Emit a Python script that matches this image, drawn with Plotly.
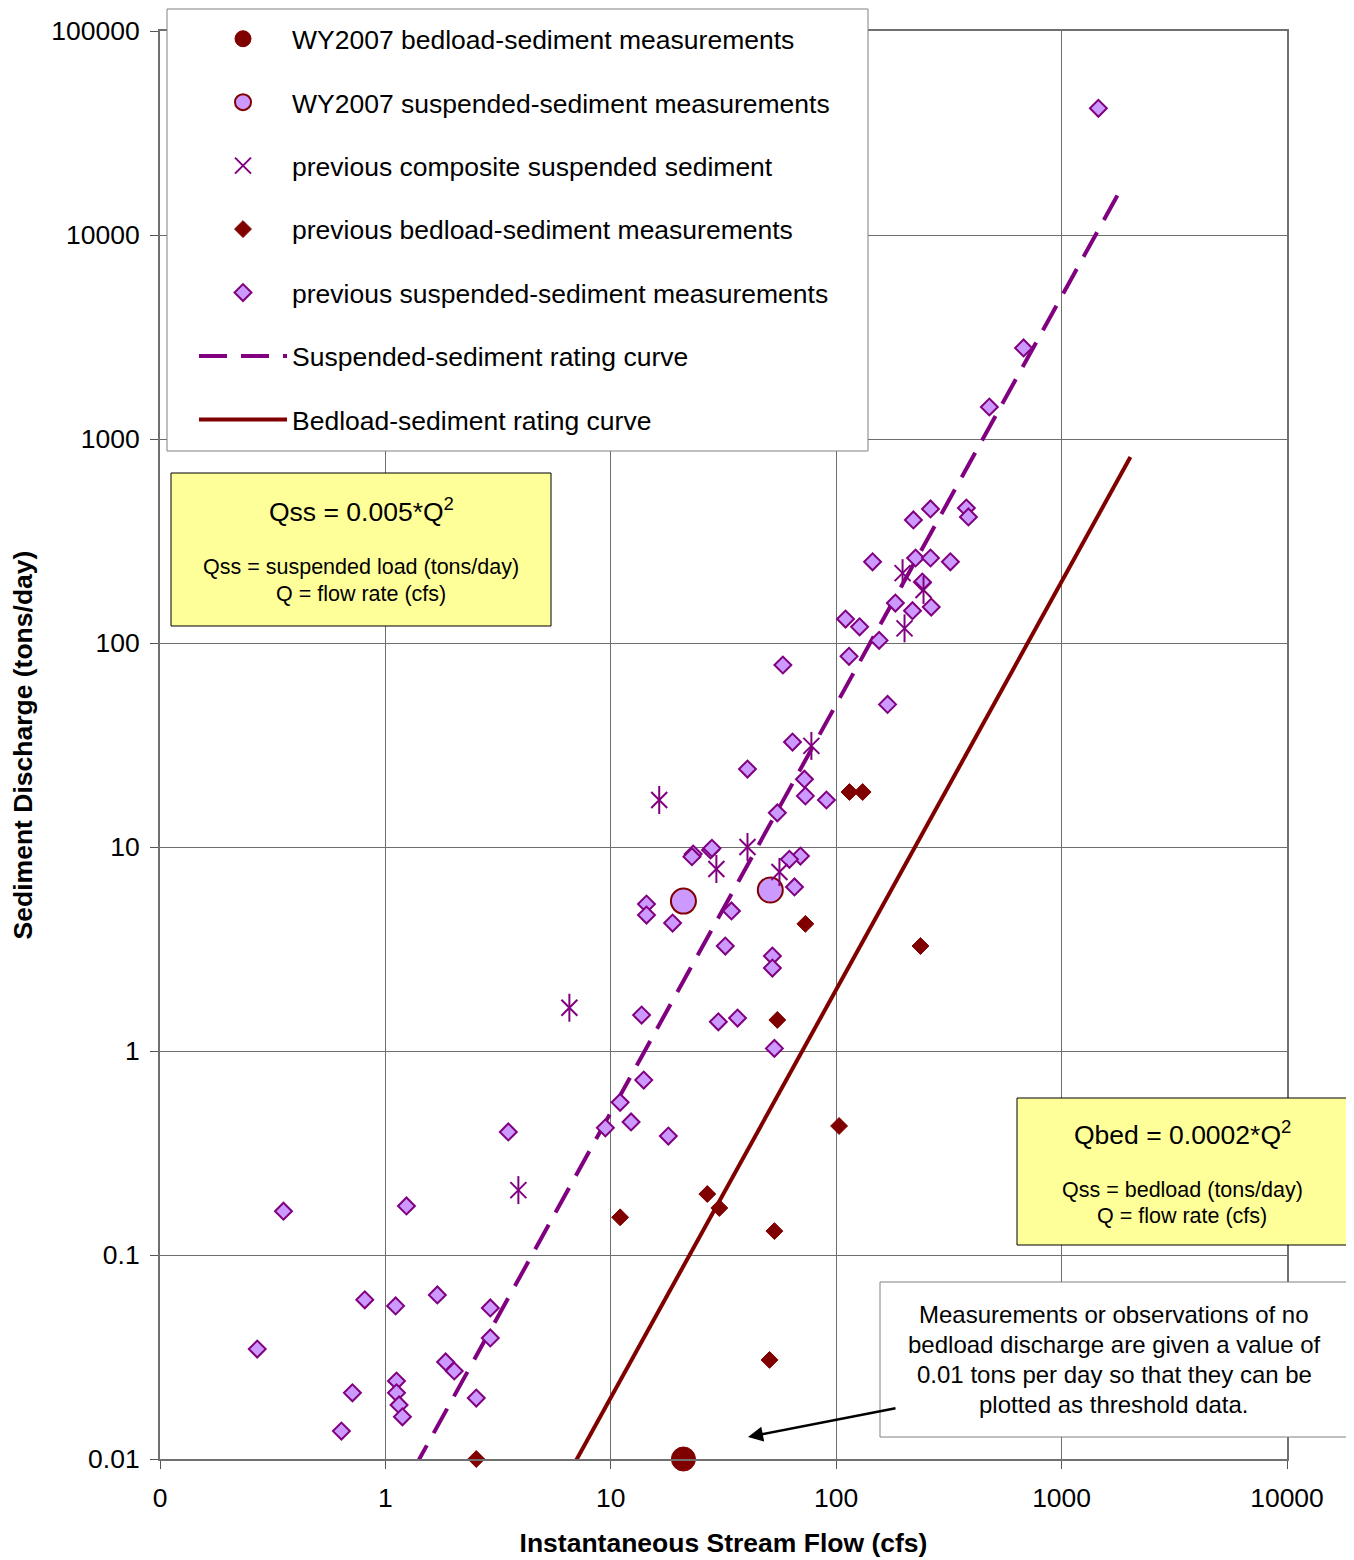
import plotly.graph_objects as go

# ---------------- data ----------------
wy_bed_q = [21.0]
wy_bed_qs = [0.01]

wy_ss_q = [21.0, 51.0]
wy_ss_qs = [5.43, 6.15]

comp_q = [3.89, 6.55, 16.4, 29.4, 40.4, 56.0, 77.6, 197.0, 201.0, 244.0]
comp_qs = [0.208, 1.63, 17.0, 7.8, 10.0, 7.54, 31.3, 220.0, 118.0, 182.0]

prev_bed_q = [114.5, 131.0, 73.0, 236.5, 54.8, 103.0, 26.8, 30.3, 11.0, 53.2, 50.6, 2.53]
prev_bed_qs = [18.6, 18.6, 4.2, 3.27, 1.42, 0.429, 0.199, 0.17, 0.153, 0.131, 0.0306, 0.01]

prev_ss_q = [1456, 678, 478, 378, 386, 262, 220, 321, 225, 262, 145, 241, 183, 218, 264,
             110, 127, 155, 114, 169, 58, 64, 40.4, 72.3, 73, 90.5, 54.8,
             23.2, 22.9, 27.7, 28.1, 69.4, 62, 65.3, 14.4, 14.4, 18.8, 34.3, 32.2,
             52.1, 52.1, 13.7, 30, 36.5, 53.2, 14, 11, 9.46, 12.3, 18, 3.51, 1.24,
             0.353, 2.92, 0.81, 1.70, 1.11, 2.92, 1.85, 2.02, 1.12, 1.12, 1.15, 1.19,
             2.53, 0.714, 0.27, 0.638]
prev_ss_qs = [41800, 2795, 1435, 459, 415, 454, 401, 250, 261, 261, 250, 199, 157, 144, 150,
              131, 120, 103, 86, 50, 78, 32.7, 24.1, 21.5, 17.8, 17, 14.7,
              9.24, 8.96, 9.67, 9.86, 9.03, 8.7, 6.37, 5.25, 4.64, 4.24, 4.86, 3.27,
              2.92, 2.55, 1.5, 1.39, 1.45, 1.03, 0.72, 0.56, 0.42, 0.449, 0.383, 0.401, 0.174,
              0.164, 0.055, 0.0603, 0.0637, 0.0563, 0.0392, 0.0299, 0.027, 0.0241, 0.0211, 0.0184, 0.0161,
              0.0199, 0.0211, 0.0346, 0.0137]

# rating curves from the chart's equations: Qs = coef * Q^2
ss_coef = 0.005
bed_coef = 0.0002
ss_curve_q = [1.33, 1840]
bed_curve_q = [6.6, 2020]
ss_curve_qs = [ss_coef * q ** 2 for q in ss_curve_q]
bed_curve_qs = [bed_coef * q ** 2 for q in bed_curve_q]

x_tickvals = [0.1, 1, 10, 100, 1000, 10000]
x_ticktext = ["0", "1", "10", "100", "1000", "10000"]
y_tickvals = [0.01, 0.1, 1, 10, 100, 1000, 10000, 100000]
y_ticktext = ["0.01", "0.1", "1", "10", "100", "1000", "10000", "100000"]

# ---------------- styling ----------------
PURPLE = "#800080"
LILAC = "#CC99FF"
MAROON = "#800000"
FONT = "Arial, Liberation Sans, sans-serif"

OFF = 8  # page body margin
W, H = 1354 - OFF, 1560 - OFF
# plot area in page pixels
L, R, T, B = 160, 1287, 31, 1459


def px(x):
    return (x - L) / (R - L)


def py(y):
    return (B - y) / (B - T)


fig = go.Figure()

fig.add_trace(go.Scatter(x=ss_curve_q, y=ss_curve_qs, mode="lines",
                         name="Suspended-sediment rating curve",
                         line=dict(color=PURPLE, width=4, dash="28px,14px"),
                         legendgroup="g6", legendrank=6))
fig.add_trace(go.Scatter(x=bed_curve_q, y=bed_curve_qs, mode="lines",
                         name="Bedload-sediment rating curve",
                         line=dict(color=MAROON, width=4),
                         legendgroup="g7", legendrank=7))
fig.add_trace(go.Scatter(x=prev_ss_q, y=prev_ss_qs, mode="markers",
                         name="previous suspended-sediment measurements",
                         marker=dict(symbol="diamond", size=13, color=LILAC,
                                     line=dict(color=PURPLE, width=2)),
                         legendgroup="g5", legendrank=5))
fig.add_trace(go.Scatter(x=prev_bed_q, y=prev_bed_qs, mode="markers",
                         name="previous bedload-sediment measurements",
                         marker=dict(symbol="diamond", size=13, color=MAROON,
                                     line=dict(color=MAROON, width=1)),
                         legendgroup="g4", legendrank=4, cliponaxis=False))
fig.add_trace(go.Scatter(x=wy_ss_q, y=wy_ss_qs, mode="markers",
                         name="WY2007 suspended-sediment measurements",
                         marker=dict(symbol="circle", size=25, color=LILAC,
                                     line=dict(color=MAROON, width=2)),
                         legendgroup="g2", legendrank=2))
fig.add_trace(go.Scatter(x=wy_bed_q, y=wy_bed_qs, mode="markers",
                         name="WY2007 bedload-sediment measurements",
                         marker=dict(symbol="circle", size=24, color=MAROON,
                                     line=dict(color=MAROON, width=1)),
                         legendgroup="g1", legendrank=1, cliponaxis=False))
fig.add_trace(go.Scatter(x=comp_q, y=comp_qs, mode="markers",
                         name="previous composite suspended sediment",
                         marker=dict(symbol="x-thin-open", size=16, color=PURPLE,
                                     line=dict(color=PURPLE, width=2)),
                         legendgroup="g3", legendrank=3))
fig.add_trace(go.Scatter(x=comp_q, y=comp_qs, mode="markers",
                         name="previous composite suspended sediment",
                         marker=dict(symbol="line-ns-open", size=20, color=PURPLE,
                                     line=dict(color=PURPLE, width=2)),
                         legendgroup="g3", showlegend=False))

axis_common = dict(
    type="log", showgrid=True, gridcolor="#6e6e6e", gridwidth=1,
    showline=True, linecolor="#707070", linewidth=2, mirror=True,
    ticks="outside", ticklen=8, tickcolor="#555555", tickwidth=1,
    tickfont=dict(family=FONT, size=26.5, color="black"),
    zeroline=False, automargin=False,
)

fig.update_xaxes(**axis_common, range=[-1, 4], tickvals=x_tickvals, ticktext=x_ticktext,
                 ticklabelstandoff=6,
                 title=dict(text="<b>Instantaneous Stream Flow (cfs)</b>",
                            font=dict(family=FONT, size=26.5, color="black"), standoff=22))
fig.update_yaxes(**axis_common, range=[-2, 5], tickvals=y_tickvals, ticktext=y_ticktext,
                 ticklabelstandoff=5,
                 title=dict(text="<b>Sediment Discharge (tons/day)</b>",
                            font=dict(family=FONT, size=26.5, color="black"), standoff=14))

shapes = [
    # legend frame
    dict(type="rect", xref="paper", yref="paper", x0=px(167), x1=px(868), y0=py(451), y1=py(9),
         fillcolor="white", line=dict(color="#808080", width=1), layer="above"),
    dict(type="rect", xref="paper", yref="paper", x0=px(171), x1=px(551), y0=py(626), y1=py(473),
         fillcolor="#FFFF99", line=dict(color="black", width=1), layer="above"),
    dict(type="rect", xref="paper", yref="paper", x0=px(1017), x1=px(1347), y0=py(1245), y1=py(1098),
         fillcolor="#FFFF99", line=dict(color="black", width=1), layer="above"),
    dict(type="rect", xref="paper", yref="paper", x0=px(880), x1=px(1347), y0=py(1437), y1=py(1282),
         fillcolor="white", line=dict(color="#808080", width=1), layer="above"),
]

annotations = []


def txt(t, x, y, size):
    annotations.append(dict(text=t, x=px(x), y=py(y), xref="paper", yref="paper",
                            showarrow=False, xanchor="center", yanchor="middle",
                            font=dict(family=FONT, size=size, color="black")))


txt("Qss = 0.005*Q<sup>2</sup>", 361, 510, 26.5)
txt("Qss = suspended load (tons/day)", 361, 567, 21.5)
txt("Q = flow rate (cfs)", 361, 594, 21.5)
txt("Qbed = 0.0002*Q<sup>2</sup>", 1182, 1133, 26.5)
txt("Qss = bedload (tons/day)", 1182, 1190, 21.5)
txt("Q = flow rate (cfs)", 1182, 1216, 21.5)
txt("Measurements or observations of no", 1114, 1314, 24)
txt("bedload discharge are given a value of", 1114, 1344, 24)
txt("0.01 tons per day so that they can be", 1114, 1374, 24)
txt("plotted as threshold data.", 1114, 1404, 24)

annotations.append(dict(text="", x=px(748), y=py(1437), xref="paper", yref="paper",
                        showarrow=True, ax=149, ay=-29, axref="pixel", ayref="pixel",
                        arrowhead=2, arrowsize=1.2, arrowwidth=2.5, arrowcolor="black"))

fig.update_layout(
    width=W, height=H,
    margin=dict(l=L - OFF, r=W - (R - OFF), t=T - OFF, b=H - (B - OFF), autoexpand=False),
    paper_bgcolor="white", plot_bgcolor="white",
    font=dict(family=FONT, color="black"),
    shapes=shapes, annotations=annotations,
    showlegend=True,
    legend=dict(x=px(194), y=py(15), xanchor="left", yanchor="top",
                bgcolor="rgba(0,0,0,0)", borderwidth=0,
                font=dict(family=FONT, size=26.5, color="black"),
                traceorder="grouped", tracegroupgap=26, itemwidth=88,
                itemsizing="trace"),
)

fig.write_html("out.html")
